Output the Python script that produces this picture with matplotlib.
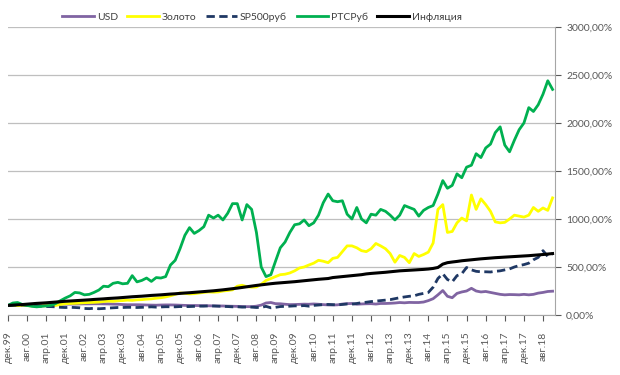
import matplotlib
matplotlib.use("Agg")
import matplotlib.pyplot as plt
import matplotlib.dates as mdates
import pandas as pd

plt.rcParams['font.family'] = ['Lato', 'DejaVu Sans']

# bimonthly points, Dec 1999 .. Dec 2018 (values in % of Dec 1999)
DATES = pd.date_range("1999-12-01", "2018-12-01", freq="2MS")

USD = [100, 105, 105, 105, 105, 106, 107, 107, 108, 109,
       110, 112, 113, 113, 114, 115, 116, 116, 117, 117,
       116, 115, 113, 112, 109, 107, 107, 107, 106, 104,
       103, 102, 104, 105, 105, 104, 102, 100, 99, 99,
       98, 98, 96, 95, 94, 94, 92, 91, 90, 89,
       87, 87, 92, 103, 125, 130, 118, 117, 112, 108,
       109, 111, 113, 112, 115, 112, 108, 105, 104, 106,
       114, 118, 120, 112, 115, 117, 118, 114, 120, 120,
       122, 125, 130, 127, 131, 130, 130, 135, 150, 170,
       210, 255, 195, 180, 225, 240, 250, 278, 250, 240,
       245, 235, 225, 215, 210, 213, 212, 210, 215, 210,
       215, 228, 235, 245, 248]

GOLD = [100, 102, 98, 100, 97, 95, 93, 95, 97, 98,
        100, 110, 118, 120, 122, 125, 128, 130, 132, 135,
        140, 145, 142, 148, 150, 155, 152, 158, 160, 165,
        168, 175, 180, 188, 200, 215, 230, 225, 220, 222,
        229, 235, 240, 238, 240, 250, 255, 262, 300, 310,
        295, 290, 292, 320, 360, 380, 400, 420, 425, 438,
        460, 490, 500, 521, 540, 570, 560, 545, 590, 600,
        660, 720, 720, 700, 670, 660, 690, 745, 720, 690,
        640, 550, 620, 600, 545, 640, 610, 630, 655, 750,
        1100, 1150, 860, 870, 960, 1010, 980, 1250, 1100, 1210,
        1150, 1080, 970, 960, 965, 1000, 1040, 1030, 1020, 1040,
        1120, 1080, 1115, 1090, 1220]

SP500 = [100, 102, 105, 104, 101, 98, 95, 92, 88, 87,
         85, 80, 78, 80, 78, 75, 68, 66, 70, 65,
         68, 72, 75, 78, 78, 80, 80, 78, 80, 82,
         85, 82, 84, 86, 86, 85, 88, 87, 88, 90,
         92, 92, 95, 94, 92, 90, 88, 85, 86, 82,
         83, 82, 78, 80, 90, 75, 80, 88, 90, 92,
         95, 95, 98, 92, 100, 104, 108, 110, 108, 105,
         110, 115, 113, 120, 128, 133, 140, 145, 150, 155,
         160, 170, 180, 188, 195, 200, 215, 225, 235, 290,
         380, 430, 370, 345, 410, 430, 495, 470, 455, 450,
         450, 448, 455, 460, 470, 480, 500, 515, 525, 540,
         575, 600, 670, 610, 640]

RTS = [100, 125, 130, 110, 100, 90, 85, 90, 95, 100,
       120, 150, 177, 200, 235, 230, 210, 215, 235, 260,
       300, 295, 330, 340, 325, 330, 410, 345, 360, 385,
       350, 390, 385, 400, 520, 570, 690, 830, 910, 850,
       880, 920, 1040, 1010, 1040, 990, 1060, 1160, 1160, 990,
       1150, 1100, 860, 500, 400, 420, 560, 700, 760, 860,
       940, 950, 990, 930, 960, 1040, 1170, 1260, 1190, 1180,
       1190, 1050, 1000, 1120, 1000, 960, 1050, 1040, 1100, 1080,
       1040, 990, 1040, 1140, 1120, 1100, 1030, 1090, 1120, 1140,
       1260, 1400, 1320, 1350, 1470, 1430, 1540, 1560, 1680, 1640,
       1740, 1780, 1900, 1960, 1770, 1700, 1820, 1930, 2000, 2160,
       2120, 2190, 2300, 2440, 2350]

INFL = [100, 103, 106, 109, 113, 117, 121, 124, 127, 131,
        135, 139, 143, 146, 149, 152, 155, 158, 162, 165,
        168, 172, 175, 178, 182, 186, 190, 193, 196, 200,
        204, 207, 210, 214, 218, 221, 225, 229, 232, 236,
        240, 244, 248, 252, 257, 262, 268, 274, 280, 287,
        294, 301, 308, 314, 320, 326, 331, 335, 339, 343,
        347, 352, 357, 362, 367, 372, 376, 380, 390, 395,
        400, 405, 410, 415, 420, 428, 433, 437, 441, 445,
        450, 455, 460, 463, 466, 469, 472, 475, 479, 485,
        495, 530, 545, 552, 558, 565, 570, 575, 580, 585,
        589, 593, 597, 600, 603, 606, 609, 612, 615, 618,
        622, 626, 630, 635, 640]

TICK_LABELS = ['дек.99', 'авг.00', 'апр.01', 'дек.01', 'авг.02', 'апр.03',
               'дек.03', 'авг.04', 'апр.05', 'дек.05', 'авг.06', 'апр.07',
               'дек.07', 'авг.08', 'апр.09', 'дек.09', 'авг.10', 'апр.11',
               'дек.11', 'авг.12', 'апр.13', 'дек.13', 'авг.14', 'апр.15',
               'дек.15', 'авг.16', 'апр.17', 'дек.17', 'авг.18']
TICK_DATES = pd.date_range("1999-12-01", "2018-08-01", freq="8MS")
Y_TICKS = [0, 500, 1000, 1500, 2000, 2500, 3000]

fig = plt.figure(figsize=(6.2, 3.75), dpi=100)
ax = fig.add_axes([8 / 620, 1 - 315 / 375, 547 / 620, 288 / 375])

ax.plot(DATES, USD, color="#8064a2", lw=2, label="USD")
ax.plot(DATES, GOLD, color="#ffff00", lw=2, label="Золото")
ax.plot(DATES, SP500, color="#1f3864", lw=2, ls=(0, (3, 1.6)), label="SP500руб")
ax.plot(DATES, RTS, color="#00b050", lw=2, label="РТСРуб")
ax.plot(DATES, INFL, color="black", lw=2.2, label="Инфляция")

ax.set_ylim(0, 3000)
ax.set_xlim(pd.Timestamp("1999-12-01"), pd.Timestamp("2019-01-01"))

ax.yaxis.tick_right()
ax.set_yticks(Y_TICKS)
ax.set_yticklabels([f"{v:.2f}".replace(".", ",") + "%" for v in Y_TICKS])
ax.set_xticks(TICK_DATES)
ax.set_xticklabels(TICK_LABELS, rotation=90, ha="center", va="top")

ax.tick_params(axis="both", labelsize=7.5, colors="#595959", length=4,
               width=0.8, direction="out")
ax.tick_params(axis="x", pad=8)
ax.tick_params(axis="y", pad=4)

ax.grid(axis="y", color="#bfbfbf", lw=0.9)
ax.set_axisbelow(True)
for side in ["left", "top"]:
    ax.spines[side].set_visible(False)
ax.spines["bottom"].set_color("#a6a6a6")
ax.spines["right"].set_color("#a6a6a6")

fig.legend(loc="center", bbox_to_anchor=(262 / 620, 1 - 17 / 375), ncol=5,
           frameon=False, fontsize=7.5, handlelength=3.0, handletextpad=0.3,
           columnspacing=0.9, labelcolor="#404040")

fig.savefig("out.png", dpi=100)
